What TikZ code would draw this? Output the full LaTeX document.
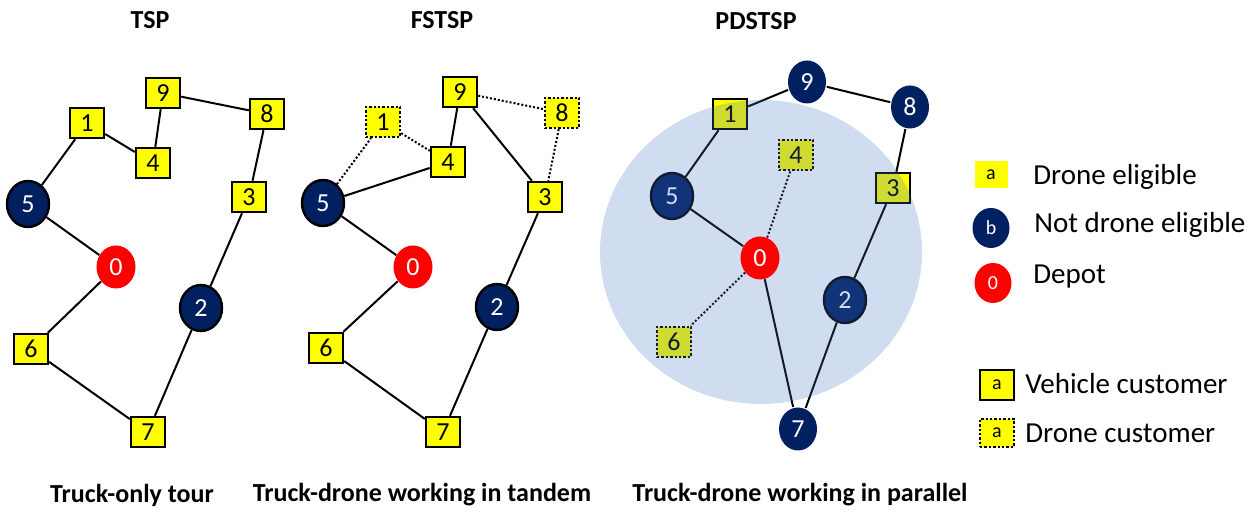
\documentclass[tikz,border=0pt]{standalone}
\usepackage{fontspec}
\setmainfont{Carlito}
\usetikzlibrary{shapes.geometric,positioning}
\definecolor{navy}{RGB}{0,32,96}
\definecolor{droneyellow}{RGB}{255,255,0}
\definecolor{reachblue}{RGB}{68,114,196}
\pgfdeclarelayer{front}
\pgfsetlayers{main,front}
\tikzset{
    num/.style={font=\fontsize{13}{15}\selectfont},
    vcust/.style={
        rectangle,
        draw=black, line width=1.2pt,
        fill=droneyellow,
        minimum width=17pt,
        minimum height=15pt,
        inner sep=0pt,
        num
    },
    dcust/.style={vcust, dash pattern=on 1.2pt off 1pt},
    nodrone/.style={
        ellipse,
        draw=black, line width=1.2pt,
        fill=navy, text=white,
        minimum width=21pt,
        minimum height=23pt,
        inner sep=0pt,
        num
    },
    farnode/.style={nodrone, draw=none, minimum width=19pt, minimum height=21.5pt},
    depot/.style={
        ellipse,
        fill=red, text=white,
        minimum width=19.5pt,
        minimum height=21.5pt,
        inner sep=0pt,
        num
    },
    truck/.style={draw, line width=1pt},
    fly/.style={draw, line width=1pt, dash pattern=on 1pt off 1pt},
    title/.style={font=\fontsize{13}{15}\selectfont\bfseries},
    legtext/.style={font=\fontsize{14.5}{17}\selectfont, anchor=west, inner sep=0pt},
    legmark/.style={font=\fontsize{10}{12}\selectfont, inner sep=0pt}
}

\begin{document}
\begin{tikzpicture}[x=0.5pt, y=-0.5pt]
\useasboundingbox (0,0) rectangle (1260,512);

% TSP
\node[title] (tsptitle) at (150,20) {TSP};
\node[vcust] (t9) at (163,93) {9};
\node[vcust] (t1) at (87,123) {1};
\node[vcust] (t8) at (267,114) {8};
\node[vcust] (t4) at (153,163) {4};
\node[nodrone] (t5) at (28,204) {5};
\node[vcust] (t3) at (249,197) {3};
\node[depot] (t0) at (116,267) {0};
\node[nodrone] (t2) at (201,308) {2};
\node[vcust] (t6) at (31,349) {6};
\node[vcust] (t7) at (148,432) {7};
\foreach \a/\b in {5/1,1/4,4/9,9/8,8/3,3/2,2/7,7/6,6/0,0/5}
    \draw[truck] (t\a) -- (t\b);
\node[title] (tspcap) at (132,495) {Truck-only tour};

% FSTSP
\node[title] (fstsptitle) at (442,20) {FSTSP};
\node[vcust] (f9) at (460,92) {9};
\node[dcust] (f1) at (383,122) {1};
\node[dcust] (f8) at (562,113) {8};
\node[vcust] (f4) at (448,162) {4};
\node[nodrone] (f5) at (323,203) {5};
\node[vcust] (f3) at (545,197) {3};
\node[depot] (f0) at (413,267) {0};
\node[nodrone] (f2) at (497,307) {2};
\node[vcust] (f6) at (326,348) {6};
\node[vcust] (f7) at (443,432) {7};
\foreach \a/\b in {5/4,4/9,9/3,3/2,2/7,7/6,6/0,0/5}
    \draw[truck] (f\a) -- (f\b);
\foreach \a/\b in {5/1,1/4,9/8,8/3}
    \draw[fly] (f\a) -- (f\b);
\node[title] (fstspcap) at (422,495) {Truck-drone working in tandem};

% PDSTSP
\node[title] (pdstsptitle) at (756,21) {PDSTSP};
\begin{pgfonlayer}{front}
\node[depot] (p0) at (760,258) {0};
\end{pgfonlayer}
\node[farnode] (p9) at (807,82) {9};
\node[vcust] (p1) at (730,114) {1};
\node[farnode] (p8) at (910,107) {8};
\node[dcust] (p4) at (796,155) {4};
\node[nodrone] (p5) at (672,196) {5};
\node[vcust] (p3) at (893,188) {3};
\node[nodrone] (p2) at (845,300) {2};
\node[dcust] (p6) at (674,342) {6};
\node[farnode] (p7) at (798,429) {7};
\foreach \a/\b in {5/1,1/9,9/8,8/3,3/2,2/7,7/0,0/5}
    \draw[truck] (p\a) -- (p\b);
\foreach \a/\b in {0/4,0/6}
    \draw[fly] (p\a) -- (p\b);
\fill[reachblue, fill opacity=0.25] (761,252) ellipse [x radius=161, y radius=152];
\node[title] (pdstspcap) at (800,495) {Truck-drone working in parallel};

% legend
\node[legmark, rectangle, fill=droneyellow, minimum width=16.5pt, minimum height=13.5pt] (lgelig) at (991,175) {a};
\node[legtext] (lgeligtxt) at (1033,177) {Drone eligible};
\node[legmark, ellipse, fill=navy, text=white, minimum width=18.5pt, minimum height=20pt] (lgnot) at (991,228) {b};
\node[legtext] (lgnottxt) at (1034,225) {Not drone eligible};
\node[legmark, ellipse, fill=red, text=white, minimum width=18.5pt, minimum height=20pt] (lgdepot) at (993,283) {0};
\node[legtext] (lgdepottxt) at (1033,277) {Depot};
\node[vcust, legmark] (lgveh) at (997,385) {a};
\node[legtext] (lgvehtxt) at (1025,384) {Vehicle customer};
\node[dcust, legmark, minimum height=14pt] (lgdrone) at (997,433) {a};
\node[legtext] (lgdronetxt) at (1025,433) {Drone customer};
\end{tikzpicture}
\end{document}
